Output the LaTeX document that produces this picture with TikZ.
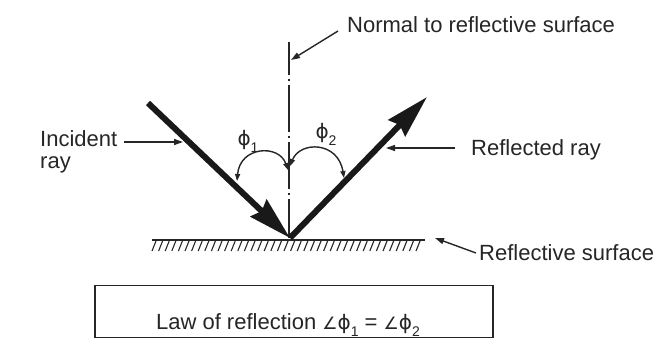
\documentclass[tikz,border=0pt]{standalone}
\usepackage{fontspec}
\setmainfont{Liberation Sans}
\newfontfamily\symfnt{DejaVu Sans}
\usetikzlibrary{arrows.meta}
\newcommand{\sbs}[1]{\raisebox{-0.32em}{\fontsize{14}{14}\selectfont #1}}
\newcommand{\phichar}{{\symfnt\fontsize{20}{20}\selectfont ϕ}}
\begin{document}
\begin{tikzpicture}[x=1pt,y=-1pt,
  lbl/.style={font=\fontsize{22}{22}\selectfont, inner sep=0pt, text=black!85},
  ray/.style={line width=6pt, draw=black!90, -{Stealth[length=43pt,width=23pt,inset=4pt]}},
  ptr/.style={line width=1.4pt, draw=black!85, -{Triangle[length=9pt,width=6pt]}},
  angarc/.style={line width=1.4pt, draw=black!85, {Triangle[length=7pt,width=5pt]}-{Triangle[length=7pt,width=5pt]}},
  normalline/.style={line width=1.3pt, draw=black!85, dash pattern=on 47pt off 3.5pt on 2pt off 4.5pt, dash phase=14pt},
  boxstyle/.style={draw=black!85, line width=1.8pt, minimum width=398pt, minimum height=52pt, inner sep=0pt}
]
\useasboundingbox (0,0) rectangle (655,346);
\fill[white] (0,0) rectangle (655,346);

% key points
\coordinate (O) at (290,238);
\coordinate (I) at (148,103);
\coordinate (R) at (427,97);
\coordinate (Ntop) at (289,42);
\coordinate (Nbot) at (289,238);
\coordinate (S1) at (152,240);
\coordinate (S2) at (425,240);

% reflective surface with hatching
\draw[line width=1.8pt, black!85] (S1) -- (S2);
\foreach \x in {152,158.6,...,421} {
  \draw[line width=1.1pt, black!85] (\x+4,241) -- (\x,251);
}

% normal
\draw[normalline] (Ntop) -- (Nbot);

% rays
\draw[ray] (I) -- (O);
\draw[ray] (O) -- (R);

% angle arcs
\coordinate (a1s) at (237,181);
\coordinate (a1e) at (288,170);
\coordinate (a2s) at (290,166);
\coordinate (a2e) at (344,178);
\draw[angarc] (a1s) .. controls (240,146) and (279,144) .. (a1e);
\draw[angarc] (a2s) .. controls (300,141) and (338,141) .. (a2e);

% labels
\node[lbl, anchor=base west] (normal) at (347,32) {Normal to reflective surface};
\node[lbl, anchor=north west, align=left] (incident) at (40,130) {Incident\\ray};
\node[lbl, anchor=base west] (reflected) at (471,155) {Reflected ray};
\node[lbl, anchor=base west] (surface) at (479,260) {Reflective surface};
\node[lbl] (phi1) at (248,141) {\phichar\sbs{1}};
\node[lbl] (phi2) at (326,134) {\phichar\sbs{2}};

% pointers
\coordinate (pn) at (291,60);
\coordinate (pis) at (124,142);
\coordinate (pi) at (183,142);
\coordinate (prs) at (455,148);
\coordinate (pr) at (386,148);
\coordinate (pss) at (476,253);
\coordinate (ps) at (435,238);
\coordinate (pns) at (338,31);
\draw[ptr] (pns) -- (pn);
\draw[ptr] (pis) -- (pi);
\draw[ptr] (prs) -- (pr);
\draw[ptr] (pss) -- (ps);

% law box
\node[boxstyle] (law) at (294,311.5) {};
\node[lbl, anchor=base] (lawtext) at (288,329) {Law of reflection {\symfnt\fontsize{17}{17}\selectfont ∠}\phichar\sbs{1} = {\symfnt\fontsize{17}{17}\selectfont ∠}\phichar\sbs{2}};
\end{tikzpicture}
\end{document}
